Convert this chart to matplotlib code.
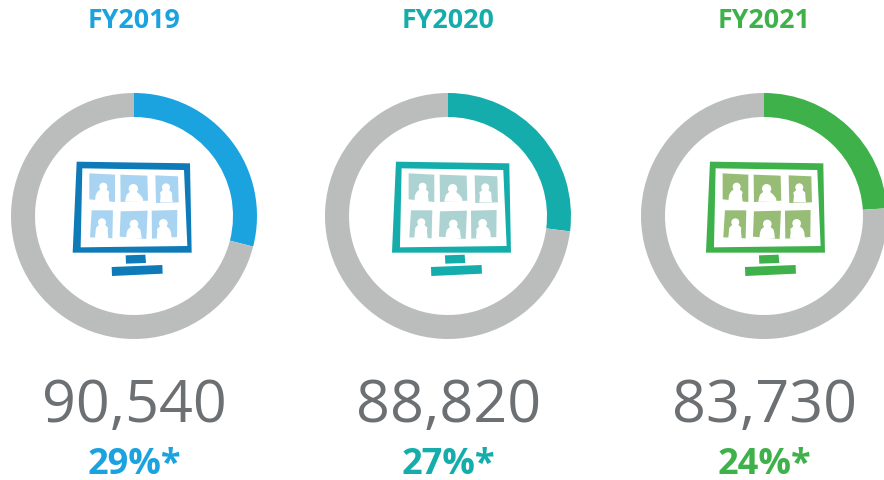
import matplotlib
matplotlib.use('Agg')
import matplotlib.pyplot as plt
from matplotlib.patches import Polygon, Circle

plt.rcParams['font.family'] = ['Open Sans', 'DejaVu Sans']

# Datos
years = ['FY2019', 'FY2020', 'FY2021']
totals = ['90,540', '88,820', '83,730']
shares = [29, 27, 24]

# Estilo de cada panel
ring_colors = ['#1ba3e0', '#14adab', '#3fb14b']
icon_colors = ['#0f7ab8', '#14adab', '#3fb14b']
photo_colors = ['#a8d4f2', '#acd3d1', '#97bc76']
title_colors = ['#1ba3e0', '#14adab', '#3fb14b']
centers = [134, 448, 764]
icon_x = [50, 369.3, 683.3]
GRAY = '#bbbdbc'
TEXT = '#6d7073'

# Icono del monitor, en pixeles de la ampliacion (3x)
screen = [(80, 65), (420, 70), (425, 338), (68, 338)]
inner = [(97, 85), (402, 90), (412, 318), (92, 322)]
stand = [(227, 346), (286, 344), (288, 369), (228, 371)]
base = [(185, 381), (337, 375), (338, 401), (186, 408)]
photos = [
    [(118, 100), (195, 104), (195, 186), (118, 178)],
    [(211, 104), (292, 107), (294, 182), (212, 186)],
    [(316, 106), (384, 109), (386, 187), (318, 189)],
    [(125, 211), (189, 211), (187, 295), (120, 292)],
    [(212, 214), (293, 212), (289, 297), (209, 290)],
    [(305, 212), (382, 210), (381, 291), (306, 296)],
]
# cabeza x, cabeza y, radio, izquierda, derecha, base
people = [
    (160, 140, 12, 135, 178, 186),
    (250, 146, 14, 225, 280, 185),
    (348, 142, 12, 330, 368, 187),
    (156, 247, 12, 135, 175, 295),
    (252, 252, 13, 228, 275, 295),
    (340, 250, 13, 320, 365, 295),
]


def draw_icon(ax, ox, color, photo):
    def tr(pts):
        return [(ox + x / 3, 480 - (140 + y / 3)) for x, y in pts]

    ax.add_patch(Polygon(tr(screen), fc=color, ec='none', zorder=3))
    ax.add_patch(Polygon(tr(inner), fc='white', ec='none', zorder=4))
    ax.add_patch(Polygon(tr(stand), fc=color, ec='none', zorder=4))
    ax.add_patch(Polygon(tr(base), fc=color, ec='none', zorder=4))
    for p in photos:
        ax.add_patch(Polygon(tr(p), fc=photo, ec='none', zorder=5))
    for hx, hy, r, left, right, bottom in people:
        ax.add_patch(Circle(tr([(hx, hy)])[0], r / 3, fc='white', ec='none', zorder=6))
        body = [(left, bottom), (left + 2, hy + r + 14), (hx - r - 6, hy + r + 4),
                (hx - r * 0.6, hy + r - 6), (hx + r * 0.6, hy + r - 6),
                (hx + r + 6, hy + r + 4), (right - 2, hy + r + 14), (right, bottom)]
        ax.add_patch(Polygon(tr(body), fc='white', ec='none', zorder=6))


fig = plt.figure(figsize=(8.84, 4.8), dpi=100)
ax = fig.add_axes([0, 0, 1, 1])

for i in range(3):
    ax.pie([shares[i], 100 - shares[i]], colors=[ring_colors[i], GRAY],
           startangle=90, counterclock=False, center=(centers[i], 264), radius=123,
           wedgeprops={'width': 24, 'linewidth': 0}, frame=True)
    draw_icon(ax, icon_x[i], icon_colors[i], photo_colors[i])
    ax.text(centers[i], 458.5, years[i], color=title_colors[i], fontsize=19.3,
            fontweight='bold', ha='center', va='center')
    ax.text(centers[i] + 0.5, 73, totals[i], color=TEXT, fontsize=42.7,
            ha='center', va='center')
    ax.text(centers[i], 6, f'{shares[i]}%*', color=title_colors[i], fontsize=26,
            fontweight='bold', ha='center', va='baseline')

ax.set_xlim(0, 884)
ax.set_ylim(0, 480)
ax.set_aspect('equal')
ax.axis('off')

fig.savefig('out.png', dpi=100)
